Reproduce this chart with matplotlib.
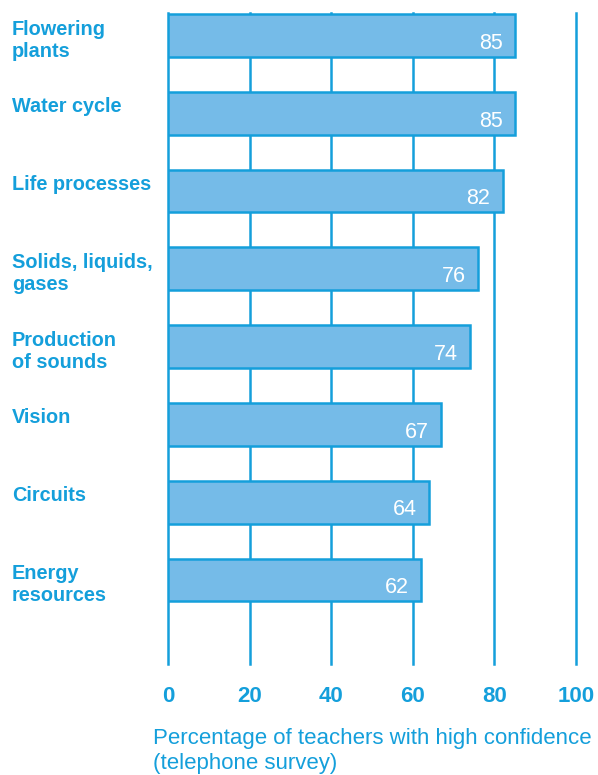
import numpy as np
import matplotlib.pyplot as plt

# Data
topics = ['Flowering\nplants', 'Water cycle', 'Life processes', 'Solids, liquids,\ngases',
          'Production\nof sounds', 'Vision', 'Circuits', 'Energy\nresources']
confidence = [85, 85, 82, 76, 74, 67, 64, 62]
ticks = [0, 20, 40, 60, 80, 100]

blue = '#149fdb'
fill = '#75bbe8'

plt.rcParams['font.family'] = ['Liberation Sans', 'DejaVu Sans']

fig = plt.figure(figsize=(5.98, 7.75), dpi=100)
ax = fig.add_axes([168/598, 1 - 664/775, (576-168)/598, (664-13)/775])

pos = np.arange(len(topics))
bh = 0.55
ax.barh(pos, confidence, height=bh, color=fill, edgecolor=blue, linewidth=1.8, zorder=3)

for t in ticks:
    ax.axvline(t, color=blue, lw=1.8, zorder=1, clip_on=False)

for p, v in zip(pos, confidence):
    ax.text(v - 3, p + 0.1, str(v), color='white', fontsize=15.5, ha='right', va='center', zorder=4)

for p, name in zip(pos, topics):
    ax.text(-38.3, p - bh/2 + 0.07, name, color=blue, fontsize=14.3, fontweight='bold',
            ha='left', va='top', linespacing=1.2)

ax.set_xlim(0, 100)
ax.set_ylim(8.08, -0.29)
ax.set_xticks(ticks)
ax.set_xticklabels([str(t) for t in ticks], color=blue, fontsize=16, fontweight='bold')
ax.set_yticks([])
ax.tick_params(axis='x', length=0, pad=16)
for s in ax.spines.values():
    s.set_visible(False)

fig.text(153/598, 1 - 751/775, 'Percentage of teachers with high confidence\n(telephone survey)',
         color=blue, fontsize=16, ha='left', va='center', linespacing=1.2)

fig.savefig('out.png', dpi=100)
